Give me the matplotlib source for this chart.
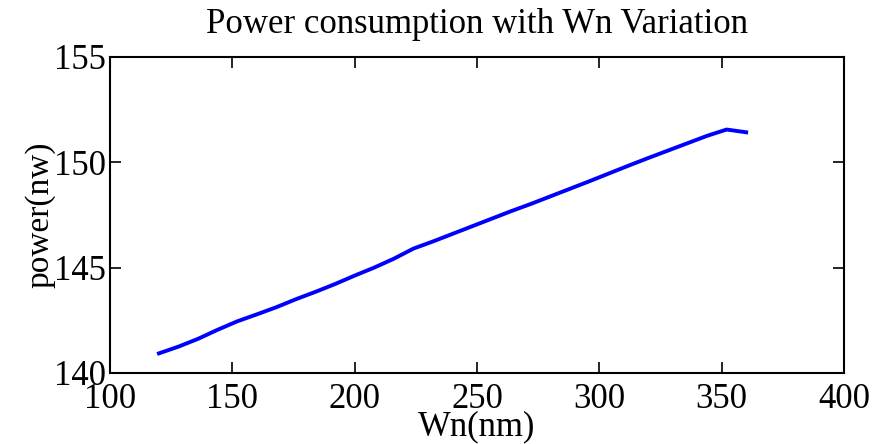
import matplotlib
matplotlib.use("Agg")
import matplotlib.pyplot as plt

# Transistor width (nm) and corresponding power consumption (nW)
wn_nm = [120, 128, 136, 144, 152, 160, 168, 176, 184, 192, 200, 208, 216, 224,
         232, 240, 248, 256, 264, 272, 280, 288, 296, 304, 312, 320, 328, 336,
         344, 352, 360]
power_nw = [140.93, 141.25, 141.62, 142.05, 142.45, 142.78, 143.12, 143.50,
            143.85, 144.22, 144.62, 145.00, 145.42, 145.90, 146.24, 146.60,
            146.96, 147.32, 147.68, 148.02, 148.38, 148.74, 149.10, 149.47,
            149.84, 150.20, 150.55, 150.90, 151.25, 151.55, 151.42]

x_ticks = [100, 150, 200, 250, 300, 350, 400]
y_ticks = [140, 145, 150, 155]

plt.rcParams["font.family"] = ["Liberation Serif", "DejaVu Serif"]

fig = plt.figure(figsize=(8.85, 4.44), dpi=100)
ax = fig.add_axes([0.1243, 0.160, 0.8294, 0.712])

ax.plot(wn_nm, power_nw, color="#0000ff", linewidth=2.8)

ax.set_xlim(100, 400)
ax.set_ylim(140, 155)
ax.set_xticks(x_ticks)
ax.set_yticks(y_ticks)
ax.tick_params(direction="in", length=8, width=1.2, labelsize=25,
               top=True, right=True)
ax.tick_params(axis="x", pad=7.5)
ax.tick_params(axis="y", pad=3)
for s in ax.spines.values():
    s.set_linewidth(1.5)

ax.set_title("Power consumption with Wn Variation", fontsize=25, pad=17)
ax.set_xlabel("Wn(nm)", fontsize=25, labelpad=-4.5)
ax.set_ylabel("power(nw)", fontsize=24, labelpad=-1)

fig.savefig("out.png", dpi=100)
